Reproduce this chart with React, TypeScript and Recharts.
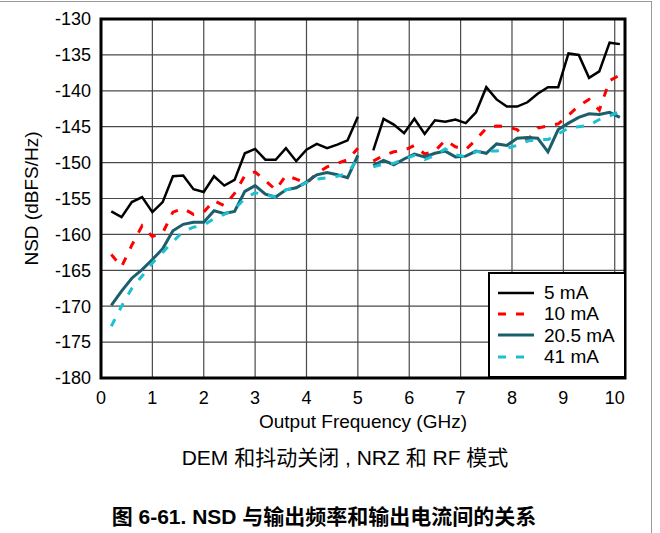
import {
  LineChart,
  Line,
  XAxis,
  YAxis,
  CartesianGrid,
  ReferenceArea,
  Legend,
} from 'recharts';

// output frequency, GHz (the curves break between 5.0 and 5.3)
const freqLow = [
  0.2, 0.4, 0.6, 0.8, 1.0, 1.2, 1.4, 1.6, 1.8, 2.0, 2.2, 2.4, 2.6, 2.8, 3.0,
  3.2, 3.4, 3.6, 3.8, 4.0, 4.2, 4.4, 4.6, 4.8, 5.0,
];
const freqHigh = [
  5.3, 5.5, 5.7, 5.9, 6.1, 6.3, 6.5, 6.7, 6.9, 7.1, 7.3, 7.5, 7.7, 7.9, 8.1,
  8.3, 8.5, 8.7, 8.9, 9.1, 9.3, 9.5, 9.7, 9.9, 10.1,
];
const gapFreq = 5.15;

// NSD, dBFS/Hz
const nsd5Low = [
  -156.8, -157.6, -155.5, -154.8, -156.9, -155.5, -151.9, -151.8, -153.7,
  -154.1, -151.9, -153.2, -152.4, -148.7, -148.1, -149.6, -149.6, -148.0,
  -149.8, -148.2, -147.4, -148.0, -147.5, -146.9, -143.6,
];
const nsd5High = [
  -148.3, -143.9, -144.7, -145.9, -143.9, -146.0, -144.1, -144.3, -144.0,
  -144.5, -143.0, -139.5, -141.2, -142.2, -142.2, -141.6, -140.4, -139.5,
  -139.5, -134.8, -135.0, -138.2, -137.3, -133.3, -133.5,
];
const nsd10Low = [
  -162.8, -164.5, -161.5, -158.8, -160.3, -159.8, -156.9, -156.4, -157.2,
  -156.9, -155.3, -156.0, -154.3, -151.8, -151.3, -152.5, -153.8, -151.8,
  -152.3, -152.9, -151.5, -150.6, -150.1, -149.6, -148.0,
];
const nsd10High = [
  -149.8, -149.0, -148.5, -148.3, -147.6, -148.8, -148.4, -146.9, -147.8,
  -148.2, -146.8, -145.2, -144.9, -145.0, -145.4, -146.9, -145.2, -144.9,
  -144.6, -143.4, -142.1, -141.2, -142.7, -138.6, -137.8,
];
const nsd20Low = [
  -169.9, -167.9, -166.1, -164.9, -163.5, -162.0, -159.5, -158.6, -158.3,
  -158.3, -156.7, -157.1, -156.8, -154.0, -153.2, -154.4, -154.8, -153.8,
  -153.5, -152.7, -151.7, -151.4, -151.7, -152.1, -149.0,
];
const nsd20High = [
  -150.4, -149.7, -150.3, -149.5, -148.8, -149.2, -148.7, -148.4, -149.2,
  -149.1, -148.4, -148.7, -147.4, -147.6, -146.6, -146.5, -146.6, -148.5,
  -145.4, -144.5, -143.7, -143.2, -143.3, -143.0, -143.7,
];
const nsd41Low = [
  -172.8, -170.0, -167.5, -165.8, -164.0, -162.5, -161.0, -159.6, -159.0,
  -158.7, -157.8, -157.2, -156.5, -155.0, -154.2, -154.5, -154.8, -153.8,
  -153.5, -152.8, -152.3, -152.1, -151.9, -151.5, -149.4,
];
const nsd41High = [
  -150.6, -150.2, -150.1, -149.5, -149.0, -149.6, -149.0, -148.1, -148.9,
  -149.2, -148.5, -148.4, -148.4, -148.0, -147.6, -147.0, -146.8, -146.8,
  -146.0, -145.2, -145.0, -144.8, -144.0, -143.5, -142.9,
];

const xTicks = [0, 1, 2, 3, 4, 5, 6, 7, 8, 9, 10];
const yTicks = [-180, -175, -170, -165, -160, -155, -150, -145, -140, -135, -130];

const series = [
  { key: 's5', name: '5 mA', color: '#000000', width: 2.5, dash: undefined },
  { key: 's10', name: '10 mA', color: '#ff0000', width: 3, dash: '8 10' },
  { key: 's20', name: '20.5 mA', color: '#1b5e6c', width: 3, dash: undefined },
  { key: 's41', name: '41 mA', color: '#1cc0d0', width: 3, dash: '8 10' },
];

const rows = [
  ...freqLow.map((f, i) => ({
    freq: f,
    s5: nsd5Low[i],
    s10: nsd10Low[i],
    s20: nsd20Low[i],
    s41: nsd41Low[i],
  })),
  { freq: gapFreq, s5: null, s10: null, s20: null, s41: null },
  ...freqHigh.map((f, i) => ({
    freq: f,
    s5: nsd5High[i],
    s10: nsd10High[i],
    s20: nsd20High[i],
    s41: nsd41High[i],
  })),
];

const font = '"Liberation Sans", Arial, "Noto Sans CJK SC", sans-serif';

const YLabel = (props: any) => {
  const vb = props.viewBox;
  const cx = vb.x + 31;
  const cy = vb.y + vb.height / 2;
  return (
    <text
      x={cx}
      y={cy}
      transform={`rotate(-90 ${cx} ${cy})`}
      textAnchor="middle"
      dominantBaseline="central"
      fontSize={19}
      fill="#000"
      fontFamily={font}
    >
      NSD (dBFS/Hz)
    </text>
  );
};

const LegendBox = () => (
  <div
    style={{
      boxSizing: 'border-box',
      width: 138,
      height: 106,
      background: '#fff',
      border: '2px solid #000',
      padding: '8px 0 0 8px',
      fontFamily: font,
      fontSize: 19,
      color: '#000',
    }}
  >
    {series.map((s) => (
      <div key={s.key} style={{ display: 'flex', alignItems: 'center', height: 21.3 }}>
        <svg width={36} height={6} style={{ display: 'block' }}>
          <line
            x1={0}
            x2={36}
            y1={3}
            y2={3}
            stroke={s.color}
            strokeWidth={s.width}
            strokeDasharray={s.dash}
          />
        </svg>
        <span style={{ marginLeft: 10, lineHeight: '21px' }}>{s.name}</span>
      </div>
    ))}
  </div>
);

export default function App() {
  return (
    <div
      style={{
        position: 'absolute',
        left: 0,
        top: 0,
        width: 660,
        height: 533,
        background: '#fff',
        fontFamily: font,
      }}
    >
      <div style={{ position: 'absolute', left: 0, top: 1, width: 651, height: 1, background: '#999' }} />
      <div style={{ position: 'absolute', left: 651, top: 1, width: 1, height: 532, background: '#999' }} />

      <LineChart
        width={660}
        height={440}
        data={rows}
        margin={{ top: 19, right: 35, left: 0, bottom: 0 }}
      >
        <CartesianGrid stroke="#4a4a4a" strokeWidth={1.2} />
        <XAxis
          dataKey="freq"
          type="number"
          domain={[0, 10.2]}
          ticks={xTicks}
          height={62}
          axisLine={false}
          tickLine={false}
          tickSize={0}
          tickMargin={13}
          tick={{ fill: '#000', fontSize: 18, fontFamily: font }}
          label={{
            value: 'Output Frequency (GHz)',
            position: 'insideBottom',
            offset: 12,
            fill: '#000',
            fontSize: 19,
            fontFamily: font,
          }}
        />
        <YAxis
          type="number"
          domain={[-180, -130]}
          ticks={yTicks}
          width={101}
          axisLine={false}
          tickLine={false}
          tickSize={0}
          tickMargin={10}
          tick={{ fill: '#000', fontSize: 18, fontFamily: font }}
          label={YLabel}
        />
        <ReferenceArea
          x1={0}
          x2={10.2}
          y1={-180}
          y2={-130}
          fill="none"
          stroke="#000"
          strokeWidth={3}
        />
        {series.map((s) => (
          <Line
            key={s.key}
            dataKey={s.key}
            name={s.name}
            type="linear"
            stroke={s.color}
            strokeWidth={s.width}
            strokeDasharray={s.dash}
            dot={false}
            activeDot={false}
            isAnimationActive={false}
          />
        ))}
        <Legend
          layout="vertical"
          align="center"
          verticalAlign="middle"
          content={LegendBox}
          wrapperStyle={{ left: 488, top: 272, width: 138, height: 106 }}
        />
      </LineChart>

      <div
        style={{
          position: 'absolute',
          left: 0,
          width: 690,
          top: 446,
          textAlign: 'center',
          fontSize: 21,
          lineHeight: '24px',
          color: '#000',
        }}
      >
        DEM 和抖动关闭 , NRZ 和 RF 模式
      </div>
      <div
        style={{
          position: 'absolute',
          left: 0,
          width: 648,
          top: 505,
          textAlign: 'center',
          fontSize: 21,
          fontWeight: 'bold',
          lineHeight: '24px',
          color: '#000',
        }}
      >
        图 6-61. NSD 与输出频率和输出电流间的关系
      </div>
    </div>
  );
}
